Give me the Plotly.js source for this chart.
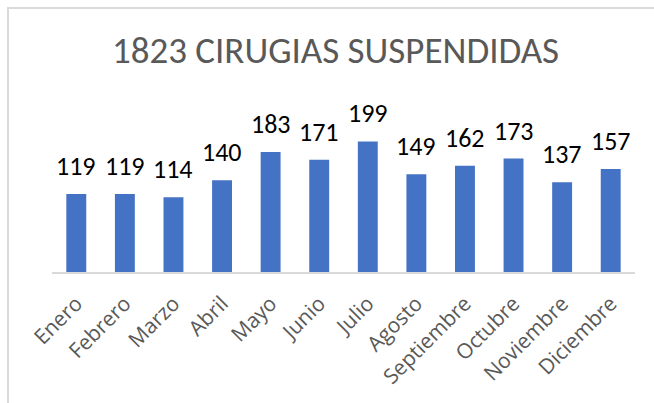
<!DOCTYPE html>
<html>
<head>
<meta charset="utf-8">
<script src="https://cdn.plot.ly/plotly-3.0.1.min.js"></script>
<style>
  html, body { margin: 0; padding: 0; overflow: hidden; background: #fff; }
  #chart { position: absolute; left: 0; top: 0; width: 654px; height: 403px; }
  #frame { position: absolute; left: 7px; top: 7px; width: 800px; height: 600px;
           border: 2px solid #dadada; pointer-events: none; }
</style>
</head>
<body>
<div id="chart"></div>
<div id="frame"></div>
<script>
const months = ["Enero","Febrero","Marzo","Abril","Mayo","Junio","Julio","Agosto","Septiembre","Octubre","Noviembre","Diciembre"];
const values = [119,119,114,140,183,171,199,149,162,173,137,157];
const chartTitle = "1823 CIRUGIAS SUSPENDIDAS";

const FONT = "Carlito, Calibri, Lato, sans-serif";
const TICKFONT = "Open Sans, Noto Sans, sans-serif";

const trace = {
  type: "bar",
  x: months,
  y: values,
  marker: { color: "#4472c4" },
  hoverinfo: "x+y"
};

const annotations = months.map((m, i) => ({
  x: m, y: values[i], xref: "x", yref: "y",
  text: String(values[i]),
  showarrow: false, yanchor: "bottom", xanchor: "center", yshift: 10,
  font: { family: FONT, size: 26, color: "#000000" }
}));

const layout = {
  width: 654, height: 403,
  margin: { l: 52, r: 19, t: 108, b: 131 },
  paper_bgcolor: "#ffffff", plot_bgcolor: "#ffffff",
  bargap: 0.59,
  showlegend: false,
  title: {
    text: chartTitle,
    font: { family: FONT, size: 37, color: "#595959" },
    xref: "container", yref: "container",
    x: 335.5 / 654, xanchor: "center",
    y: 1 - 50 / 403, yanchor: "middle"
  },
  xaxis: {
    type: "category",
    tickangle: -45,
    ticks: "",
    ticklabelstandoff: 9,
    showline: true, linecolor: "#d9d9d9", linewidth: 2,
    showgrid: false, zeroline: false,
    tickfont: { family: TICKFONT, size: 21, color: "#595959" },
    automargin: false
  },
  yaxis: {
    range: [0, 250],
    visible: false,
    showgrid: false, zeroline: false, showline: false
  },
  annotations: annotations
};

Plotly.newPlot("chart", [trace], layout, { displayModeBar: false, staticPlot: true });
</script>
</body>
</html>
